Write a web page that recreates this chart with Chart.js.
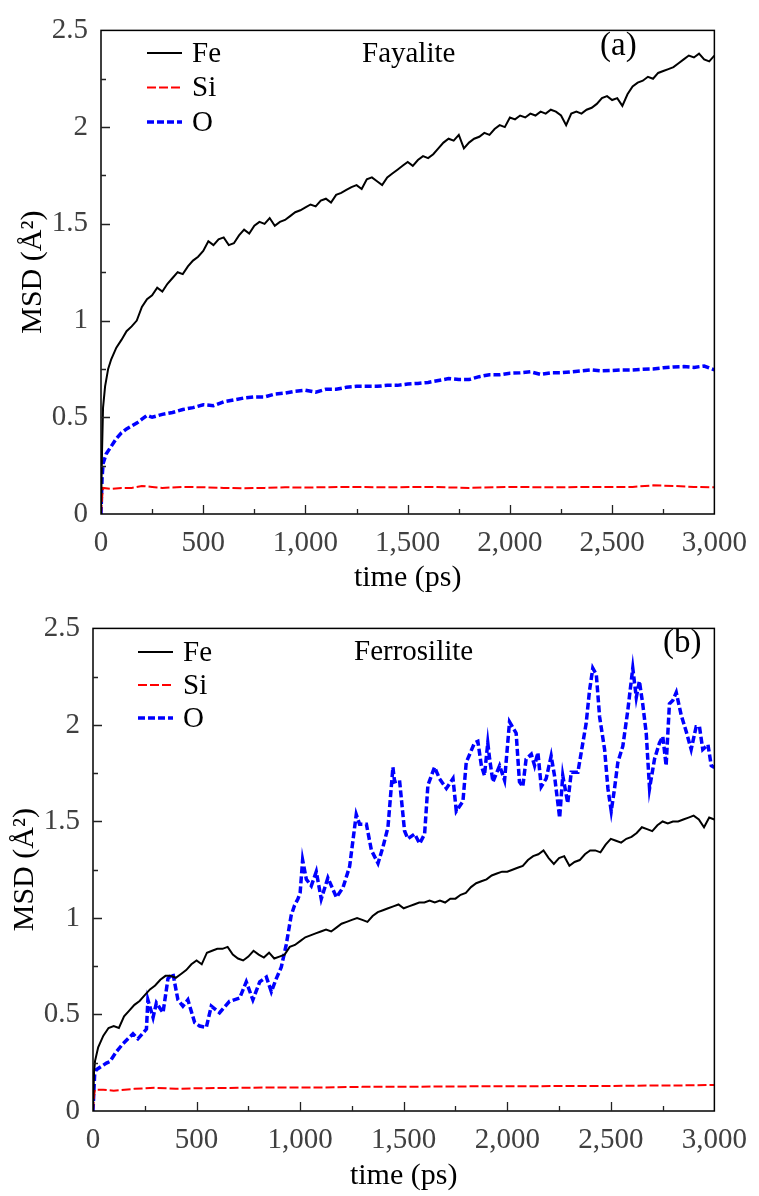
<!DOCTYPE html>
<html>
<head>
<meta charset="utf-8">
<title>MSD – Fayalite / Ferrosilite</title>
<script src="https://cdn.jsdelivr.net/npm/chart.js@4.4.1/dist/chart.umd.min.js"></script>
<style>
  html, body { margin:0; padding:0; background:#fff; }
  .panel { position:relative; width:759px; height:598px; }
</style>
</head>
<body>
<div class="panel"><canvas id="fayChart"></canvas></div>
<div class="panel"><canvas id="ferChart"></canvas></div>
<script>
/* ── data: [time (ps), MSD (Å²)] ── */
const SPECIES = ['Fe', 'Si', 'O'];
const X_TICKS = [0, 500, 1000, 1500, 2000, 2500, 3000];
const Y_TICKS = [0, 0.5, 1, 1.5, 2, 2.5];

// (a) Fayalite
const fayFe = [[0,0],[5,0.32],[10,0.55],[20,0.66],[35,0.75],[50,0.80],[75,0.86],[100,0.90],[125,0.945],[150,0.97],[175,1.00],
  [200,1.07],[225,1.11],[250,1.13],[275,1.17],[300,1.15],[325,1.19],[350,1.22],[375,1.25],[400,1.24],[425,1.28],[450,1.31],[475,1.33],
  [500,1.36],[525,1.41],[550,1.39],[575,1.42],[600,1.43],[625,1.39],[650,1.40],[675,1.44],[700,1.47],[725,1.45],[750,1.49],[775,1.51],
  [800,1.50],[825,1.53],[850,1.49],[875,1.51],[900,1.52],[925,1.54],[950,1.56],[975,1.57],[1000,1.585],[1025,1.60],[1050,1.59],[1075,1.62],
  [1100,1.63],[1125,1.61],[1150,1.65],[1175,1.66],[1200,1.675],[1225,1.69],[1250,1.70],[1275,1.68],[1300,1.73],[1325,1.74],[1350,1.72],
  [1375,1.70],[1400,1.74],[1425,1.76],[1450,1.78],[1475,1.80],[1500,1.82],[1525,1.80],[1550,1.83],[1575,1.85],[1600,1.84],[1625,1.86],
  [1650,1.89],[1675,1.92],[1700,1.94],[1725,1.93],[1750,1.96],[1775,1.89],[1800,1.92],[1825,1.94],[1850,1.95],[1875,1.97],[1900,1.96],
  [1925,1.99],[1950,2.01],[1975,2.00],[2000,2.05],[2025,2.04],[2050,2.06],[2075,2.05],[2100,2.07],[2125,2.06],[2150,2.08],[2175,2.07],
  [2200,2.09],[2225,2.08],[2250,2.06],[2275,2.01],[2300,2.07],[2325,2.08],[2350,2.07],[2375,2.09],[2400,2.10],[2425,2.12],[2450,2.15],
  [2475,2.16],[2500,2.14],[2525,2.15],[2550,2.11],[2575,2.17],[2600,2.21],[2625,2.23],[2650,2.24],[2675,2.26],[2700,2.25],[2725,2.28],
  [2750,2.29],[2775,2.30],[2800,2.31],[2825,2.33],[2850,2.35],[2875,2.37],[2900,2.36],[2925,2.38],[2950,2.35],[2975,2.34],[3000,2.37]];
const faySi = [[0,0],[5,0.08],[10,0.135],[50,0.13],[100,0.135],[150,0.135],[200,0.145],[250,0.14],[300,0.135],[400,0.14],[500,0.138],
  [600,0.135],[700,0.133],[800,0.135],[900,0.138],[1000,0.137],[1200,0.14],[1400,0.138],[1600,0.14],[1800,0.135],[2000,0.14],
  [2200,0.138],[2400,0.14],[2600,0.14],[2700,0.148],[2800,0.145],[2900,0.14],[3000,0.138]];
const fayO = [[0,0],[5,0.18],[10,0.26],[25,0.31],[50,0.35],[75,0.39],[100,0.42],[125,0.44],[150,0.455],[175,0.47],[200,0.49],[225,0.51],
  [250,0.50],[300,0.515],[350,0.525],[400,0.54],[450,0.55],[500,0.565],[550,0.56],[600,0.58],[650,0.59],[700,0.60],[750,0.605],[800,0.605],
  [850,0.62],[900,0.625],[950,0.635],[1000,0.64],[1050,0.63],[1100,0.645],[1150,0.645],[1200,0.655],[1250,0.66],[1300,0.66],[1350,0.66],
  [1400,0.665],[1450,0.665],[1500,0.672],[1550,0.675],[1600,0.68],[1650,0.69],[1700,0.70],[1750,0.695],[1800,0.695],[1850,0.71],[1900,0.72],
  [1950,0.72],[2000,0.728],[2050,0.73],[2100,0.735],[2150,0.722],[2200,0.73],[2250,0.73],[2300,0.735],[2350,0.74],[2400,0.745],[2450,0.74],
  [2500,0.742],[2550,0.745],[2600,0.745],[2650,0.748],[2700,0.75],[2750,0.756],[2800,0.76],[2850,0.762],[2900,0.758],[2950,0.765],[3000,0.745]];

// (b) Ferrosilite
const ferFe = [[0,0],[5,0.2],[10,0.26],[25,0.33],[50,0.39],[75,0.43],[100,0.44],[125,0.43],[150,0.49],[175,0.52],[200,0.55],[225,0.57],
  [250,0.60],[275,0.63],[300,0.65],[325,0.68],[350,0.70],[375,0.70],[400,0.69],[425,0.71],[450,0.73],[475,0.76],[500,0.78],[525,0.76],
  [550,0.82],[575,0.83],[600,0.84],[625,0.84],[650,0.85],[675,0.81],[700,0.79],[725,0.78],[750,0.80],[775,0.83],[800,0.81],[825,0.795],
  [850,0.82],[875,0.79],[900,0.80],[925,0.81],[950,0.85],[975,0.86],[1000,0.88],[1025,0.90],[1050,0.91],[1075,0.92],[1100,0.93],[1125,0.94],
  [1150,0.93],[1175,0.95],[1200,0.97],[1225,0.98],[1250,0.99],[1275,1.00],[1300,0.99],[1325,0.98],[1350,1.01],[1375,1.03],[1400,1.04],
  [1425,1.05],[1450,1.06],[1475,1.07],[1500,1.05],[1525,1.06],[1550,1.07],[1575,1.08],[1600,1.08],[1625,1.09],[1650,1.08],[1675,1.09],
  [1700,1.08],[1725,1.10],[1750,1.10],[1775,1.12],[1800,1.13],[1825,1.16],[1850,1.18],[1875,1.19],[1900,1.20],[1925,1.22],[1950,1.23],
  [1975,1.24],[2000,1.24],[2025,1.25],[2050,1.26],[2075,1.27],[2100,1.30],[2125,1.32],[2150,1.33],[2175,1.35],[2200,1.31],[2225,1.28],
  [2250,1.31],[2275,1.32],[2300,1.27],[2325,1.29],[2350,1.30],[2375,1.33],[2400,1.35],[2425,1.35],[2450,1.34],[2475,1.38],[2500,1.41],
  [2525,1.40],[2550,1.39],[2575,1.41],[2600,1.42],[2625,1.44],[2650,1.47],[2675,1.46],[2700,1.45],[2725,1.48],[2750,1.50],[2775,1.49],
  [2800,1.50],[2825,1.50],[2850,1.51],[2875,1.52],[2900,1.53],[2925,1.51],[2950,1.47],[2975,1.52],[3000,1.51]];
const ferSi = [[0,0],[5,0.08],[10,0.11],[50,0.11],[100,0.105],[200,0.115],[300,0.12],[400,0.115],[500,0.118],[700,0.12],[900,0.122],
  [1100,0.122],[1300,0.125],[1500,0.125],[1700,0.127],[1900,0.128],[2100,0.128],[2300,0.13],[2500,0.13],[2700,0.132],[2900,0.133],[3000,0.135]];
const ferO = [[0,0],[8,0.19],[16,0.214],[65,0.248],[81,0.256],[113,0.307],[145,0.349],[193,0.40],[217,0.374],[258,0.424],[265,0.576],
  [290,0.484],[306,0.56],[338,0.509],[362,0.686],[386,0.711],[410,0.576],[434,0.543],[458,0.576],[491,0.458],[515,0.44],[547,0.433],
  [571,0.543],[611,0.509],[659,0.568],[708,0.585],[740,0.669],[772,0.576],[805,0.669],[837,0.694],[861,0.618],[885,0.686],[909,0.745],
  [933,0.862],[957,1.014],[973,1.065],[989,1.098],[1000,1.13],[1012,1.30],[1030,1.20],[1054,1.166],[1078,1.24],[1102,1.098],[1134,1.208],
  [1158,1.149],[1175,1.107],[1207,1.157],[1239,1.267],[1271,1.536],[1287,1.486],[1320,1.486],[1344,1.351],[1376,1.283],[1400,1.368],
  [1424,1.469],[1448,1.781],[1456,1.705],[1480,1.713],[1504,1.452],[1520,1.41],[1553,1.435],[1577,1.385],[1601,1.435],[1617,1.688],
  [1649,1.781],[1673,1.722],[1706,1.671],[1738,1.722],[1754,1.553],[1786,1.604],[1802,1.806],[1842,1.907],[1858,1.915],[1875,1.789],
  [1890,1.738],[1906,1.907],[1915,1.823],[1931,1.705],[1963,1.789],[1987,1.713],[2011,2.016],[2043,1.957],[2059,1.705],[2075,1.68],
  [2091,1.823],[2116,1.848],[2132,1.789],[2148,1.857],[2164,1.68],[2188,1.722],[2212,1.839],[2228,1.738],[2253,1.519],[2268,1.738],
  [2292,1.595],[2309,1.755],[2341,1.755],[2365,1.907],[2381,2.008],[2397,2.176],[2413,2.294],[2430,2.261],[2446,2.041],[2470,1.873],
  [2486,1.671],[2502,1.553],[2518,1.671],[2534,1.806],[2558,1.89],[2582,2.075],[2606,2.294],[2623,2.142],[2638,2.227],[2654,2.109],
  [2671,1.957],[2687,1.671],[2711,1.823],[2735,1.907],[2751,1.94],[2767,1.789],[2783,2.109],[2799,2.126],[2816,2.168],[2840,2.05],
  [2864,1.966],[2888,1.873],[2912,1.991],[2928,1.991],[2944,1.873],[2969,1.898],[2985,1.789],[3000,1.78]];

/* ── look ── */
const SERIF = '"Liberation Serif", "Times New Roman", serif';
const STYLE = {
  Fe: { color:'#000000', width:2,   dash:[] },
  Si: { color:'#ff0000', width:2,   dash:[9,3] },
  O:  { color:'#0000ff', width:3.5, dash:[7,3] },
};

const toXY = pts => pts.map(([x, y]) => ({ x, y }));

/* ── frame + inward ticks (major and minor) ── */
const frameTicks = {
  id:'frameTicks',
  afterDatasetsDraw(chart) {
    const { ctx, chartArea:a, scales:{ x, y } } = chart;
    ctx.save();
    ctx.strokeStyle = '#000'; ctx.lineWidth = 1.5; ctx.setLineDash([]);
    ctx.strokeRect(a.left, a.top, a.right - a.left, a.bottom - a.top);
    ctx.strokeStyle = '#222'; ctx.lineWidth = 1.3;
    ctx.beginPath();
    const xt = x.ticks.map(t => t.value), yt = y.ticks.map(t => t.value);
    xt.forEach((v, i) => {
      const px = Math.round(x.getPixelForValue(v)) + .5;
      if (i > 0 && i < xt.length - 1) { ctx.moveTo(px, a.bottom); ctx.lineTo(px, a.bottom - 9); }
      if (i < xt.length - 1) {
        const mx = Math.round(x.getPixelForValue((v + xt[i + 1]) / 2)) + .5;
        ctx.moveTo(mx, a.bottom); ctx.lineTo(mx, a.bottom - 5);
      }
    });
    yt.forEach((v, i) => {
      const py = Math.round(y.getPixelForValue(v)) + .5;
      if (i > 0 && i < yt.length - 1) { ctx.moveTo(a.left, py); ctx.lineTo(a.left + 9, py); }
      if (i < yt.length - 1) {
        const my = Math.round(y.getPixelForValue((v + yt[i + 1]) / 2)) + .5;
        ctx.moveTo(a.left, my); ctx.lineTo(a.left + 5, my);
      }
    });
    ctx.stroke();
    ctx.restore();
  }
};

/* ── legend + panel captions drawn in place ── */
const captions = {
  id:'captions',
  afterDraw(chart, args, o) {
    const ctx = chart.ctx;
    ctx.save();
    ctx.textBaseline = 'middle'; ctx.textAlign = 'left'; ctx.fillStyle = '#000';
    chart.data.datasets.forEach((ds, i) => {
      const y = o.legendY + i * o.legendStep;
      ctx.strokeStyle = ds.borderColor; ctx.lineWidth = ds.borderWidth;
      ctx.setLineDash(ds.borderDash);
      ctx.beginPath(); ctx.moveTo(o.legendX, y); ctx.lineTo(o.legendX + 35, y); ctx.stroke();
      ctx.font = `29px ${SERIF}`;
      ctx.fillText(ds.label, o.legendX + 45, y + 1);
    });
    ctx.font = `29px ${SERIF}`;
    ctx.fillText(o.name, o.nameX, o.nameY);
    ctx.font = `33px ${SERIF}`;
    ctx.fillText(o.tag, o.tagX, o.tagY);
    ctx.restore();
  }
};

function buildPanel(id, series, lay, cap) {
  const ctx = document.getElementById(id).getContext('2d');
  return new Chart(ctx, {
    type:'line',
    data:{
      datasets: SPECIES.map((sp, i) => ({
        label: sp, data: toXY(series[i]),
        borderColor: STYLE[sp].color, borderWidth: STYLE[sp].width, borderDash: STYLE[sp].dash,
        pointRadius:0, tension:0, fill:false
      }))
    },
    options:{
      responsive:true, maintainAspectRatio:false, animation:false,
      layout:{ padding:{ left:0, right:lay.right, top:lay.top, bottom:0 } },
      plugins:{ legend:{ display:false }, tooltip:{ enabled:false }, captions:cap },
      scales:{
        x:{
          type:'linear', min:X_TICKS[0], max:X_TICKS[X_TICKS.length - 1],
          afterBuildTicks: s => { s.ticks = X_TICKS.map(v => ({ value:v })); },
          ticks:{ color:'#404040', font:{ family:SERIF, size:29 }, padding:12, maxRotation:0, autoSkip:false,
                  callback: v => v.toLocaleString('en-US') },
          grid:{ display:false, drawTicks:false }, border:{ display:false },
          title:{ display:true, text:'time (ps)', color:'#000', font:{ family:SERIF, size:30 }, padding:{ top:0, bottom:2 } },
          afterFit: s => { s.height = lay.xh; }
        },
        y:{
          min:Y_TICKS[0], max:Y_TICKS[Y_TICKS.length - 1],
          afterBuildTicks: s => { s.ticks = Y_TICKS.map(v => ({ value:v })); },
          ticks:{ color:'#404040', font:{ family:SERIF, size:29 }, padding:13, callback: v => String(v) },
          grid:{ display:false, drawTicks:false }, border:{ display:false },
          title:{ display:true, text:'MSD (Å²)', color:'#000', font:{ family:SERIF, size:30 }, padding:{ top:lay.titlePad, bottom:0 } },
          afterFit: s => { s.width = lay.yw; }
        }
      }
    },
    plugins:[frameTicks, captions]
  });
}

window.addEventListener('DOMContentLoaded', () => {
  buildPanel('fayChart', [fayFe, faySi, fayO],
    { right:36, top:18, xh:84, yw:101, titlePad:15 },
    { legendX:147, legendY:53, legendStep:34.5, name:'Fayalite', nameX:362, nameY:54, tag:'(a)', tagX:600, tagY:46 });
  buildPanel('ferChart', [ferFe, ferSi, ferO],
    { right:44, top:18, xh:85, yw:93, titlePad:7 },
    { legendX:138, legendY:54, legendStep:33, name:'Ferrosilite', nameX:354, nameY:54, tag:'(b)', tagX:663, tagY:45 });
});
</script>
</body>
</html>
